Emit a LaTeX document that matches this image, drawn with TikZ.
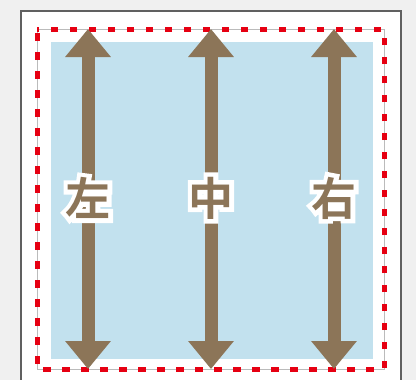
\documentclass[tikz,border=0pt]{standalone}
\usepackage{fontspec}
\newfontfamily\cjkbold{Noto Sans CJK JP Bold}
\newfontfamily\cjkhalo[FakeBold=20]{Noto Sans CJK JP Bold}
\usetikzlibrary{arrows.meta}
\definecolor{bggray}{HTML}{F0F0F0}
\definecolor{framegray}{HTML}{606060}
\definecolor{linegray}{HTML}{BBBBBB}
\definecolor{areablue}{HTML}{C2E1EE}
\definecolor{arrowbrown}{HTML}{8C7558}
\definecolor{markred}{HTML}{E60012}

\begin{document}
\begin{tikzpicture}[x=1pt,y=-1pt]
\tikzstyle{every node}=[inner sep=0pt];
\tikzstyle{axis}=[arrowbrown, line width=13pt,
  {Triangle[width=44pt,length=28pt]}-{Triangle[width=44pt,length=28pt]}];
\useasboundingbox[fill=bggray] (0,0) rectangle (416,380);
   % outer frame
   \draw[framegray, line width=2pt, fill=white] (21,11) rectangle (401,390);
   % area
   \fill[areablue] (51,42) rectangle (373,359);
   \draw[linegray, line width=1pt] (37,29) rectangle (384,369);
   \draw[markred, line width=5pt, dash pattern=on 7.5pt off 11.5pt, dash phase=-4pt]
     (37,29) rectangle (384,369);
  \foreach \n/\x/\t in {l/88/左,m/211/中,r/334/右} {
    \coordinate (\n top) at (\x,29);
    \coordinate (\n bot) at (\x,369);
    \draw[axis] (\n bot) -- (\n top);
    \node[text=white, font=\cjkhalo\fontsize{45}{45}\selectfont] (\n halo) at (\x,198) {\t};
    \node[text=arrowbrown, font=\cjkbold\fontsize{45}{45}\selectfont] (\n lab) at (\x,198) {\t};
  }
\end{tikzpicture}
\end{document}
